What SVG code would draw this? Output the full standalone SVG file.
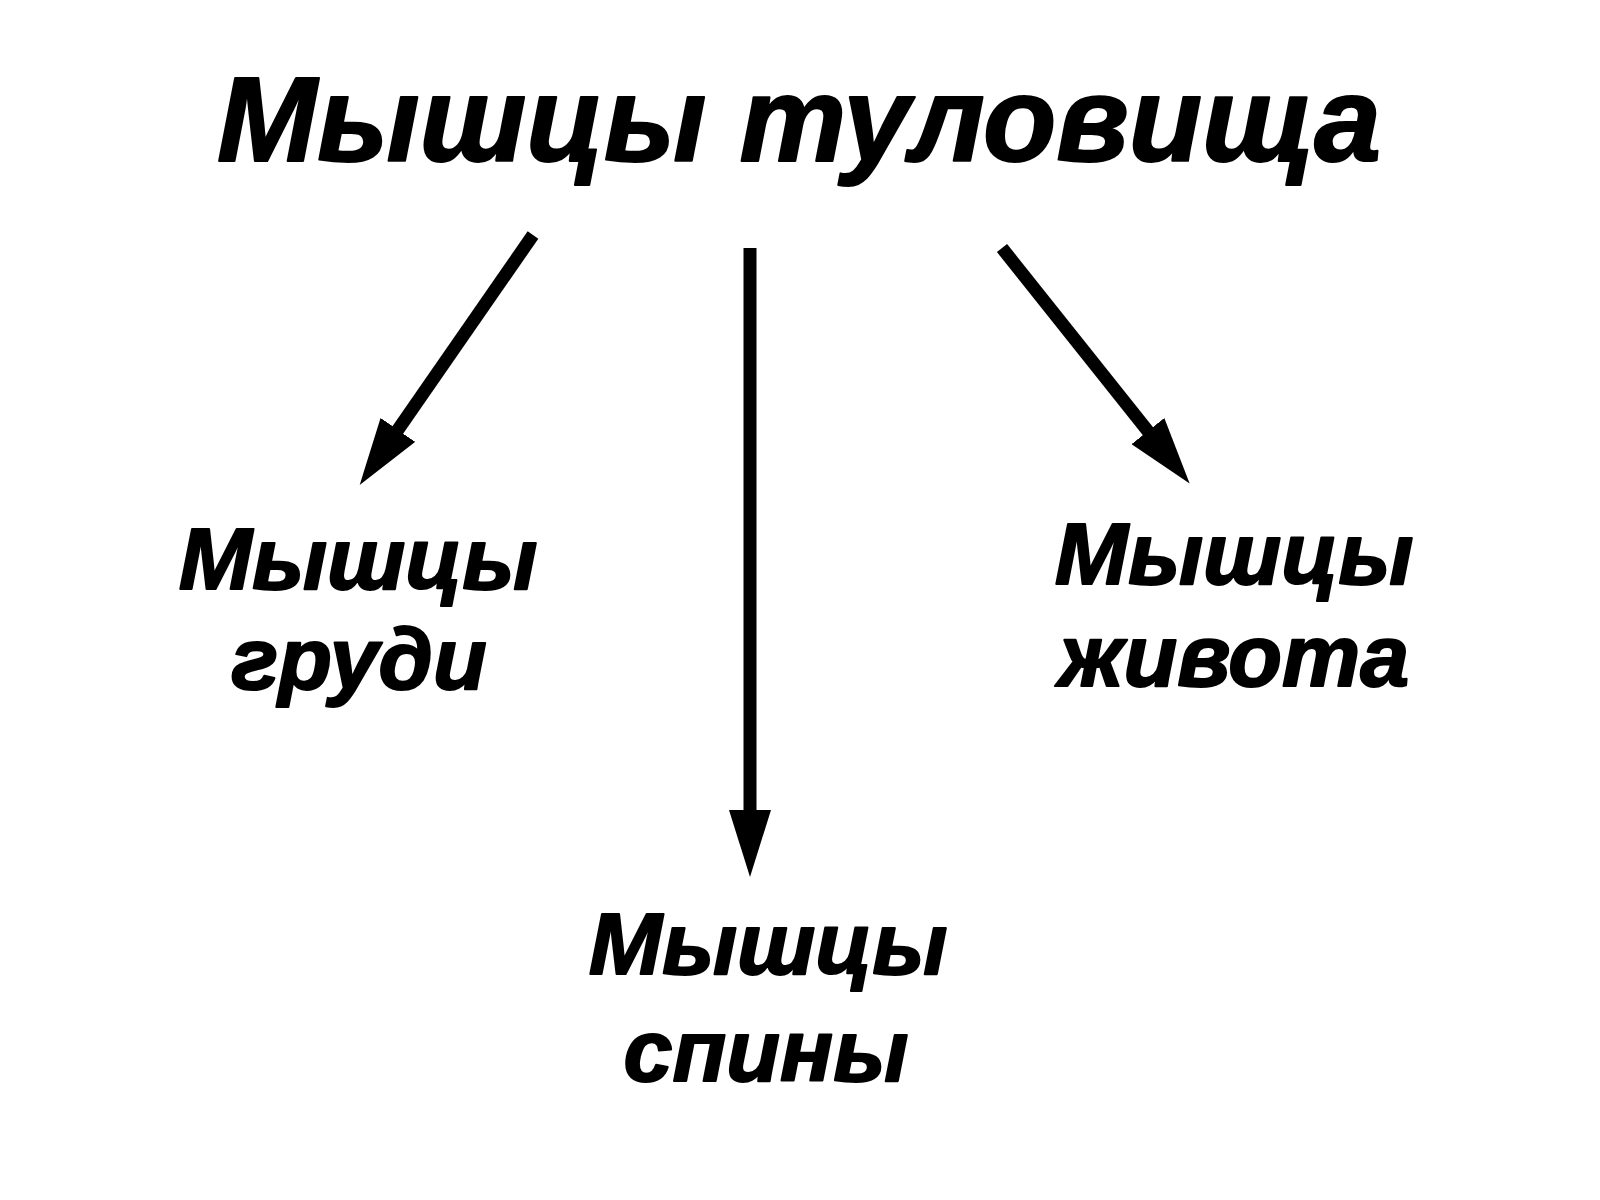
<svg xmlns="http://www.w3.org/2000/svg" width="1600" height="1200" viewBox="0 0 1600 1200">
<defs>
<style>
.t{font-family:"Liberation Sans",Arial,sans-serif;font-weight:bold;font-style:italic;fill:#000;stroke:#000;stroke-width:2;stroke-linejoin:round;text-anchor:middle}
.title{font-size:120px}
.lbl{font-size:88px}
.conn{stroke:#000;stroke-width:13;fill:none;marker-end:url(#ah)}
</style>
<marker id="ah" markerUnits="userSpaceOnUse" viewBox="0 0 67 42" markerWidth="67" markerHeight="42" refX="5" refY="21" orient="auto">
<path d="M0,0 L67,21 L0,42 Z" fill="#000"/>
</marker>
</defs>
<rect width="1600" height="1200" fill="#fff"/>
<g id="title"><text class="t title" x="799" y="161">Мышцы туловища</text></g>
<g id="chest"><text class="t lbl" x="358" y="589">Мышцы</text><text class="t lbl" x="359" y="689">груди</text></g>
<g id="back"><text class="t lbl" x="768" y="974">Мышцы</text><text class="t lbl" x="766" y="1081">спины</text></g>
<g id="abdomen"><text class="t lbl" x="1234" y="584">Мышцы</text><text class="t lbl" x="1234" y="686">живота</text></g>
<g id="connectors">
<line class="conn" x1="533" y1="235" x2="395" y2="434"/>
<line class="conn" x1="750" y1="248" x2="750" y2="815"/>
<line class="conn" x1="1002" y1="248" x2="1151" y2="435"/>
</g>
</svg>
